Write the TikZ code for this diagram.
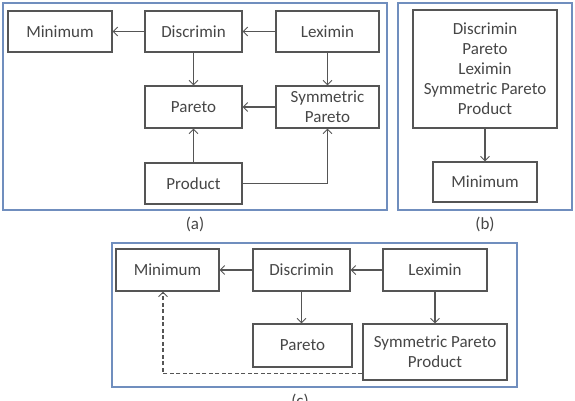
\documentclass[tikz,border=0pt]{standalone}
\usepackage{fontspec}
\setmainfont{Carlito}
\usetikzlibrary{arrows.meta,calc}
\definecolor{framec}{RGB}{112,142,190}
\definecolor{linec}{RGB}{85,85,85}
\definecolor{textc}{RGB}{70,70,70}
\begin{document}
\begin{tikzpicture}[x=1pt,y=-1pt,
  box/.style={draw=linec,line width=1.2pt,text=textc,align=center,inner sep=0pt,
    font=\fontsize{17}{20}\selectfont},
  conn/.style={draw=linec,line width=1.1pt,-{Straight Barb[length=4.5pt,width=9pt,line width=0.9pt]}},
  panelframe/.style={draw=framec,line width=1.4pt},
  captext/.style={text=textc,font=\fontsize{17}{20}\selectfont}]
\useasboundingbox (0,0) rectangle (575,400);
% panel (a)
\draw[panelframe] (3,3) rectangle (387,210);
\node[box,minimum width=104pt,minimum height=41pt] (mina) at (60,31.5) {Minimum};
\node[box,minimum width=97pt,minimum height=41pt] (disa) at (193.5,31.5) {Discrimin};
\node[box,minimum width=103pt,minimum height=41pt] (lexa) at (327.5,31.5) {Leximin};
\node[box,minimum width=97pt,minimum height=42pt] (para) at (193.5,107) {Pareto};
\node[box,minimum width=103pt,minimum height=42pt] (syma) at (327.5,107) {Symmetric\\Pareto};
\node[box,minimum width=97pt,minimum height=41pt] (proa) at (193.5,183.5) {Product};
\draw[conn] (disa) -- (mina);
\draw[conn] (lexa) -- (disa);
\draw[conn] (disa) -- (para);
\draw[conn] (lexa) -- (syma);
\draw[conn] (syma) -- (para);
\draw[conn] (proa) -- (para);
\draw[conn] (proa) -| (syma);
\node[captext] (capa) at (195,224) {(a)};
% panel (b)
\draw[panelframe] (398,3) rectangle (572,210);
\node[box,minimum width=144pt,minimum height=118pt] (bigb) at (485,69) {Discrimin\\Pareto\\Leximin\\Symmetric Pareto\\Product};
\node[box,minimum width=104pt,minimum height=40pt] (minb) at (485,182) {Minimum};
\draw[conn] (bigb) -- (minb);
\node[captext] (capb) at (485,224) {(b)};
% panel (c)
\draw[panelframe] (112,243) rectangle (517,387);
\node[box,minimum width=103pt,minimum height=42pt] (minc) at (167.5,270) {Minimum};
\node[box,minimum width=97pt,minimum height=42pt] (disc) at (301.5,270) {Discrimin};
\node[box,minimum width=104pt,minimum height=42pt] (lexc) at (435,270) {Leximin};
\node[box,minimum width=99pt,minimum height=43pt] (parc) at (302.5,345.5) {Pareto};
\node[box,minimum width=144pt,minimum height=56pt] (sppc) at (435,352) {Symmetric Pareto\\Product};
\draw[conn] (disc) -- (minc);
\draw[conn] (lexc) -- (disc);
\draw[conn] (disc) -- (disc |- parc.north);
\draw[conn] (lexc) -- (lexc |- sppc.north);
\coordinate (dstart) at ($(sppc.south west)+(0,-7)$);
\coordinate (dend) at ($(minc.south)+(-4.5,0)$);
\draw[conn,dash pattern=on 4pt off 2.5pt] (dstart) -| (dend);
\node[captext] (capc) at (300,401) {(c)};
\end{tikzpicture}
\end{document}
